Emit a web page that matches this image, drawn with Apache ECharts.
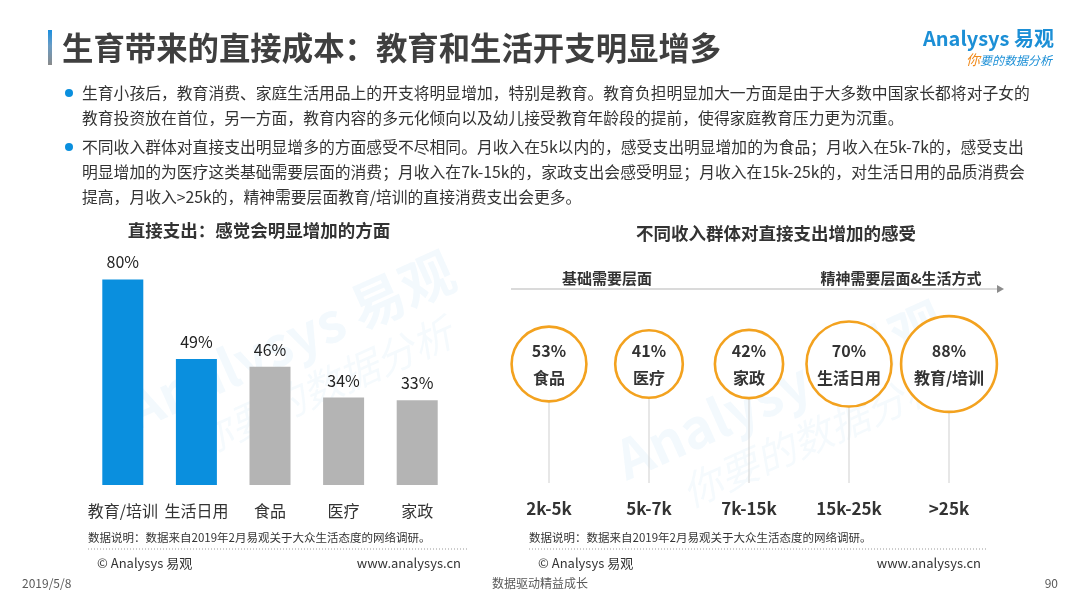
<!DOCTYPE html>
<html>
<head>
<meta charset="utf-8">
<script src="https://cdn.jsdelivr.net/npm/echarts@6/dist/echarts.min.js"></script>
<style>
  html, body { margin: 0; padding: 0; background: #fff; }
  #main { width: 1080px; height: 607px; }
</style>
</head>
<body>
<div id="main"></div>
<script type="text/javascript">
    // 左图：直接支出 感觉会明显增加的方面
    var spendCats = ['教育/培训', '生活日用', '食品', '医疗', '家政'];
    var spendShares = [80, 49, 46, 34, 33];

    // 右图：不同收入群体
    var incomeBands = ['2k-5k', '5k-7k', '7k-15k', '15k-25k', '>25k'];
    var bandItems = ['食品', '医疗', '家政', '生活日用', '教育/培训'];
    var bandShares = [53, 41, 42, 70, 88];

    var bulletLines = [
        ['生育小孩后，教育消费、家庭生活用品上的开支将明显增加，特别是教育。教育负担明显加大一方面是由于大多数中国家长都将对子女的',
         '教育投资放在首位，另一方面，教育内容的多元化倾向以及幼儿接受教育年龄段的提前，使得家庭教育压力更为沉重。'],
        ['不同收入群体对直接支出明显增多的方面感受不尽相同。月收入在5k以内的，感受支出明显增加的为食品；月收入在5k-7k的，感受支出',
         '明显增加的为医疗这类基础需要层面的消费；月收入在7k-15k的，家政支出会感受明显；月收入在15k-25k的，对生活日用的品质消费会',
         '提高，月收入>25k的，精神需要层面教育/培训的直接消费支出会更多。']
    ];

    var FONT = '"Noto Sans CJK SC", "Noto Sans", sans-serif';
    var BLUE = '#0a8fde';
    var ORANGE = '#f3a21f';

    var myChart = echarts.init(document.getElementById('main'), null, {renderer: 'canvas'});

    // 正文段落
    var textEls = [];
    var lineY = [93, 147];
    bulletLines.forEach(function (para, p) {
        textEls.push({
            type: 'circle', shape: {cx: 69, cy: lineY[p], r: 4}, style: {fill: BLUE}
        });
        para.forEach(function (t, i) {
            textEls.push({
                type: 'text', x: 82, y: lineY[p] + i * 25,
                style: {text: t, font: '15.8px ' + FONT, fill: '#333', verticalAlign: 'middle'}
            });
        });
    });

    function footer(x0, x1) {
        return [
            {type: 'text', x: x0, y: 538, style: {text: '数据说明：数据来自2019年2月易观关于大众生活态度的网络调研。', font: '11.5px ' + FONT, fill: '#333', verticalAlign: 'middle'}},
            {type: 'line', shape: {x1: x0, y1: 549, x2: x1, y2: 549}, style: {stroke: '#999', lineWidth: 1, lineDash: [1, 2]}},
            {type: 'text', x: x0 + 9, y: 563, style: {text: '© Analysys 易观', font: '13px ' + FONT, fill: '#333', verticalAlign: 'middle'}},
            {type: 'text', x: x1 - 6, y: 563, style: {text: 'www.analysys.cn', font: '13px ' + FONT, fill: '#333', verticalAlign: 'middle', align: 'right'}}
        ];
    }

    function watermark(cx, cy) {
        return {
            type: 'group', x: cx, y: cy, rotation: 0.42, silent: true,
            children: [
                {type: 'text', x: 0, y: 0, style: {text: 'Analysys 易观', font: 'bold 54px ' + FONT, fill: 'rgba(20,140,215,0.05)', align: 'center', verticalAlign: 'middle'}},
                {type: 'text', x: 10, y: 56, style: {text: '你要的数据分析', font: 'italic 40px ' + FONT, fill: 'rgba(20,140,215,0.045)', align: 'center', verticalAlign: 'middle'}}
            ]
        };
    }

    var graphics = [
        watermark(290, 340),
        watermark(780, 390),
        // 标题
        {
            type: 'rect', shape: {x: 48, y: 30, width: 4, height: 35},
            style: {fill: new echarts.graphic.LinearGradient(0, 0, 0, 1, [
                {offset: 0, color: '#1a8fe0'}, {offset: 0.45, color: '#6a9cc4'}, {offset: 1, color: '#8a8a8a'}])}
        },
        {type: 'text', x: 62, y: 48, style: {text: '生育带来的直接成本：教育和生活开支明显增多', font: 'bold 31.4px ' + FONT, fill: '#3f3f3f', verticalAlign: 'middle'}},
        // logo
        {type: 'text', x: 1054, y: 38, style: {text: 'Analysys 易观', font: 'bold 20px ' + FONT, fill: '#1c8fd6', align: 'right', verticalAlign: 'middle'}},
        {type: 'text', x: 1052, y: 60, style: {
            text: '{o|你}{b|要的数据分析}', align: 'right', verticalAlign: 'middle',
            rich: {o: {font: 'italic 14px ' + FONT, fill: '#f08a1c'}, b: {font: 'italic 12px ' + FONT, fill: '#1c8fd6'}}
        }},
        // 子图标题
        {type: 'text', x: 259, y: 230, style: {text: '直接支出：感觉会明显增加的方面', font: 'bold 17.5px ' + FONT, fill: '#333', align: 'center', verticalAlign: 'middle'}},
        {type: 'text', x: 776, y: 233, style: {text: '不同收入群体对直接支出增加的感受', font: 'bold 17.5px ' + FONT, fill: '#333', align: 'center', verticalAlign: 'middle'}},
        // 箭头
        {type: 'line', shape: {x1: 511, y1: 289, x2: 998, y2: 289}, style: {stroke: '#b5b5b5', lineWidth: 1}},
        {type: 'polygon', shape: {points: [[997, 285], [1004, 289], [997, 293]]}, style: {fill: '#8c8c8c'}},
        {type: 'text', x: 607, y: 278, style: {text: '基础需要层面', font: 'bold 15px ' + FONT, fill: '#333', align: 'center', verticalAlign: 'middle'}},
        {type: 'text', x: 901, y: 278, style: {text: '精神需要层面&生活方式', font: 'bold 15px ' + FONT, fill: '#333', align: 'center', verticalAlign: 'middle'}},
        // 页脚
        {type: 'text', x: 22, y: 583, style: {text: '2019/5/8', font: '12px ' + FONT, fill: '#595959', verticalAlign: 'middle'}},
        {type: 'text', x: 540, y: 583, style: {text: '数据驱动精益成长', font: '12px ' + FONT, fill: '#595959', align: 'center', verticalAlign: 'middle'}},
        {type: 'text', x: 1058, y: 583, style: {text: '90', font: '12px ' + FONT, fill: '#595959', align: 'right', verticalAlign: 'middle'}}
    ].concat(textEls, footer(88, 467), footer(529, 987));

    var option = {
        backgroundColor: '#fff',
        animation: false,
        textStyle: {fontFamily: FONT},
        graphic: graphics,
        grid: [
            {left: 86, right: 626, top: 228, bottom: 122},
            {left: 499, right: 81, top: 364, bottom: 124}
        ],
        xAxis: [
            {
                gridIndex: 0, type: 'category', data: spendCats,
                axisLine: {show: false}, axisTick: {show: false},
                axisLabel: {fontSize: 16, color: '#333', margin: 18, interval: 0}
            },
            {
                gridIndex: 1, type: 'category', data: incomeBands,
                axisLine: {show: false}, axisTick: {show: false},
                axisLabel: {fontSize: 17, fontWeight: 'bold', color: '#333', margin: 17, interval: 0}
            }
        ],
        yAxis: [
            {gridIndex: 0, type: 'value', min: 0, max: 100, show: false},
            {gridIndex: 1, type: 'value', min: 0, max: 1, show: false}
        ],
        series: [
            {
                type: 'bar', xAxisIndex: 0, yAxisIndex: 0,
                data: spendShares, barWidth: 41,
                itemStyle: {
                    color: function (p) { return p.dataIndex < 2 ? BLUE : '#b4b4b4'; }
                },
                label: {show: true, position: 'top', distance: 9, formatter: '{c}%', fontSize: 16, color: '#222'}
            },
            {
                // 竖线
                type: 'bar', xAxisIndex: 1, yAxisIndex: 1, z: 1,
                data: bandShares.map(function () { return 1; }),
                barWidth: 1, itemStyle: {color: '#cfcfcf'}, silent: true
            },
            {
                type: 'scatter', xAxisIndex: 1, yAxisIndex: 1, z: 3, clip: false,
                data: bandShares.map(function (v, i) { return [incomeBands[i], 1, v]; }),
                symbol: 'circle',
                symbolSize: function (d) { return 43 + 0.6 * d[2]; },
                itemStyle: {color: '#fff', borderColor: ORANGE, borderWidth: 2.6, opacity: 1},
                label: {
                    show: true, position: 'inside',
                    formatter: function (p) { return p.value[2] + '%\n' + bandItems[p.dataIndex]; },
                    fontSize: 16, fontWeight: 'bold', color: '#333', lineHeight: 27
                }
            }
        ]
    };

    myChart.setOption(option);
</script>
</body>
</html>
